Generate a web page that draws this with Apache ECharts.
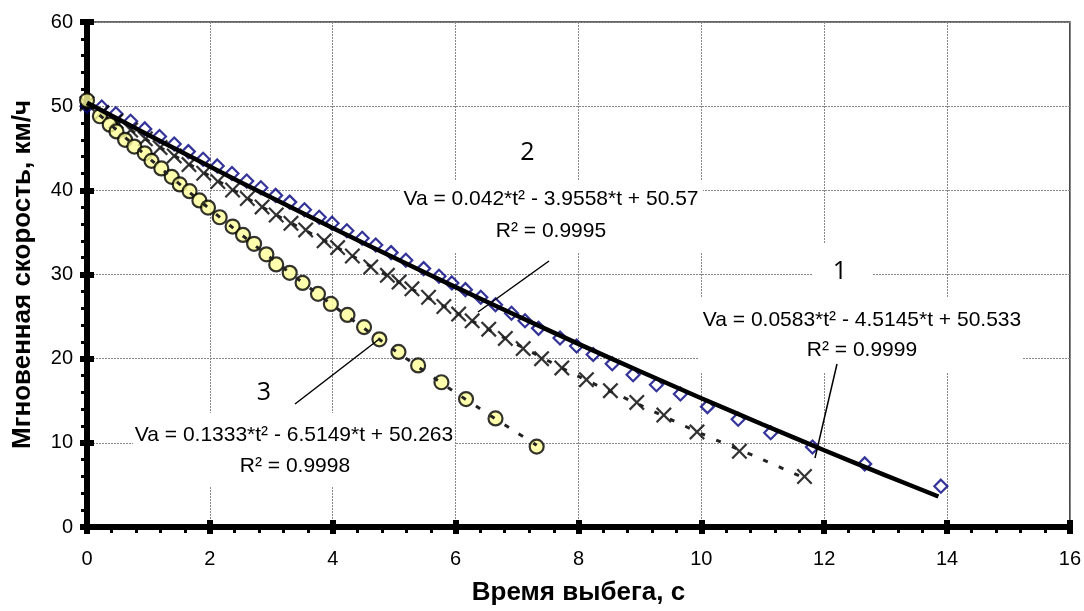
<!DOCTYPE html>
<html>
<head>
<meta charset="utf-8">
<script src="https://cdn.jsdelivr.net/npm/echarts@6/dist/echarts.min.js"></script>
<style>html,body{margin:0;padding:0;background:#fff}#c{width:1084px;height:611px}</style>
</head>
<body>
<div id="c"></div>
<script>
// ---- data ----
const xTicks = [0, 2, 4, 6, 8, 10, 12, 14, 16];
const yTicks = [0, 10, 20, 30, 40, 50, 60];

// series 1: open diamonds
const t1 = [0.00,0.24,0.47,0.71,0.94,1.18,1.42,1.65,1.89,2.12,2.36,2.60,2.83,3.07,3.30,3.54,3.78,3.99,4.23,4.48,4.70,4.95,5.19,5.48,5.73,5.94,6.16,6.41,6.65,6.91,7.13,7.35,7.70,7.97,8.24,8.55,8.89,9.27,9.66,10.10,10.60,11.13,11.81,12.66,13.90];
const v1 = [50.0,49.9,49.1,48.2,47.3,46.4,45.5,44.6,43.7,42.9,42.0,41.1,40.3,39.4,38.6,37.7,36.8,36.1,35.2,34.3,33.5,32.6,31.7,30.7,29.8,29.0,28.2,27.3,26.4,25.4,24.5,23.6,22.45,21.5,20.5,19.4,18.1,16.9,15.8,14.3,12.8,11.2,9.5,7.5,4.85];
// trend line 1 (solid thick)
const tr1t = [0,1,2,3,4,5,6,7,8,9,10,11,12,13,13.86];
const tr1v = [50.4,46.58,42.82,39.14,35.52,31.98,28.5,25.1,21.76,18.5,15.3,12.18,9.12,6.14,3.62];

// series 2: crosses
const t2 = [0.00,0.24,0.47,0.71,0.95,1.19,1.42,1.66,1.90,2.13,2.37,2.61,2.85,3.08,3.32,3.56,3.86,4.08,4.32,4.62,4.89,5.08,5.29,5.56,5.81,6.05,6.27,6.54,6.81,7.10,7.40,7.73,8.13,8.52,8.95,9.39,9.93,10.62,11.68];
const v2 = [50.3,49.24,48.22,47.17,46.12,45.08,44.09,43.06,42.03,41.05,40.04,39.03,38.03,37.07,36.08,35.3,34.0,33.2,32.2,30.9,29.9,29.1,28.3,27.3,26.2,25.3,24.5,23.5,22.4,21.2,20.0,18.9,17.5,16.2,14.8,13.3,11.3,9.0,6.0];
const tr2t = [0,1,2,3,4,5,6,7,8,9,10,11,11.68];
const tr2v = [50.3,45.9,41.7,37.4,33.5,29.4,25.5,21.7,17.9,14.5,11.1,8.0,5.8];

// series 3: yellow circles
const t3 = [0.00,0.21,0.37,0.48,0.62,0.77,0.94,1.05,1.21,1.38,1.51,1.67,1.83,1.97,2.16,2.37,2.54,2.72,2.92,3.08,3.30,3.51,3.76,3.97,4.24,4.51,4.76,5.07,5.39,5.77,6.17,6.65,7.32];
const v3 = [50.7,48.8,47.8,47.0,46.0,45.2,44.4,43.5,42.6,41.6,40.7,39.9,38.8,37.95,36.8,35.7,34.7,33.65,32.4,31.2,30.2,29.0,27.7,26.5,25.2,23.75,22.3,20.8,19.2,17.2,15.2,12.9,9.55];
const tr3t = [0,1,2,3,4,5,6,7,7.32];
const tr3v = [50.26,43.88,37.77,31.92,26.34,21.03,15.97,11.2,9.72];

const eq1 = ['Va = 0.0583*t² - 4.5145*t + 50.533', 'R² = 0.9999'];
const eq2 = ['Va = 0.042*t² - 3.9558*t + 50.57', 'R² = 0.9995'];
const eq3 = ['Va = 0.1333*t² - 6.5149*t + 50.263', 'R² = 0.9998'];
const xName = 'Время выбега, с';
const yName = 'Мгновенная скорость, км/ч';

const zip = (a, b) => a.map((x, i) => [x, b[i]]);
const FONT = '"Liberation Sans", Arial, sans-serif';
const LBLFONT = '"Open Sans", "Noto Sans", sans-serif';

const chart = echarts.init(document.getElementById('c'), null, {renderer: 'canvas'});

const baseX = {
  type: 'value', min: xTicks[0], max: xTicks[xTicks.length - 1], interval: 2,
  position: 'bottom'
};
const baseY = {
  type: 'value', min: yTicks[0], max: yTicks[yTicks.length - 1], interval: 10,
  position: 'left'
};

const X_SYMBOL = 'path://M0,1.2L1.2,0L6,4.8L10.8,0L12,1.2L7.2,6L12,10.8L10.8,12L6,7.2L1.2,12L0,10.8L4.8,6Z';

function textEl(x, y, str, size, family, bold) {
  return {
    type: 'text', x: x, y: y, z: 101,
    style: {
      text: str, fill: '#000', align: 'center', verticalAlign: 'middle',
      font: (bold ? 'bold ' : '') + size + 'px ' + family
    }
  };
}
function boxEl(x1, y1, x2, y2) {
  return { type: 'rect', z: 100, shape: {x: x1, y: y1, width: x2 - x1, height: y2 - y1}, style: {fill: '#fff'} };
}
function lineEl(x1, y1, x2, y2) {
  return { type: 'line', z: 102, shape: {x1: x1, y1: y1, x2: x2, y2: y2}, style: {stroke: '#000', lineWidth: 1.5} };
}

const option = {
  backgroundColor: '#fff',
  animation: false,
  grid: { left: 87, top: 22, right: 11, bottom: 82, show: true, borderColor: '#333', borderWidth: 1.5, backgroundColor: 'transparent' },
  xAxis: [
    Object.assign({}, baseX, {
      name: xName, nameLocation: 'middle', nameGap: 53,
      nameTextStyle: {fontFamily: FONT, fontWeight: 'bold', fontSize: 26, color: '#000'},
      axisLine: {show: true, onZero: false, lineStyle: {color: '#000', width: 6}},
      axisTick: {show: true, inside: false, length: 7, lineStyle: {color: '#000', width: 6}},
      minorTick: {show: true, splitNumber: 5, length: 6, lineStyle: {color: '#000', width: 3}},
      axisLabel: {fontFamily: FONT, fontSize: 20, color: '#000', margin: 22},
      splitLine: {show: true, lineStyle: {color: '#888', type: [2, 1], width: 1}}
    }),
    Object.assign({}, baseX, {
      axisLine: {show: false}, axisLabel: {show: false}, splitLine: {show: false},
      axisTick: {show: true, inside: true, length: 7, lineStyle: {color: '#000', width: 6}}
    })
  ],
  yAxis: [
    Object.assign({}, baseY, {
      name: yName, nameLocation: 'middle', nameGap: 51, nameRotate: 90,
      nameTextStyle: {fontFamily: FONT, fontWeight: 'bold', fontSize: 26, color: '#000'},
      axisLine: {show: true, onZero: false, lineStyle: {color: '#000', width: 6}},
      axisTick: {show: true, inside: false, length: 7, lineStyle: {color: '#000', width: 6}},
      minorTick: {show: true, splitNumber: 5, length: 6, lineStyle: {color: '#000', width: 3}},
      axisLabel: {fontFamily: FONT, fontSize: 20, color: '#000', margin: 14},
      splitLine: {show: true, lineStyle: {color: '#888', type: [2, 1], width: 1}}
    }),
    Object.assign({}, baseY, {
      axisLine: {show: false}, axisLabel: {show: false}, splitLine: {show: false},
      axisTick: {show: true, inside: true, length: 7, lineStyle: {color: '#000', width: 6}}
    })
  ],
  series: [
    { type: 'scatter', name: '1', z: 2, data: zip(t1, v1), symbol: 'diamond', symbolSize: 13,
      itemStyle: {color: 'rgba(255,255,255,0)', borderColor: '#000080', borderWidth: 2.2} },
    { type: 'scatter', name: '2', z: 3, data: zip(t2, v2), symbol: X_SYMBOL, symbolSize: 16,
      itemStyle: {color: '#000'} },
    { type: 'line', name: 'trend2', z: 4, data: zip(tr2t, tr2v), smooth: 0.3, showSymbol: false, symbol: 'none',
      lineStyle: {color: '#222', width: 3, type: [5, 12]} },
    { type: 'scatter', name: '3', z: 5, data: zip(t3, v3), symbol: 'circle', symbolSize: 14,
      itemStyle: {color: '#FFFF99', borderColor: '#000', borderWidth: 2.2} },
    { type: 'line', name: 'trend3', z: 6, data: zip(tr3t, tr3v), smooth: 0.3, showSymbol: false, symbol: 'none',
      lineStyle: {color: '#222', width: 3, type: [5, 12]} },
    { type: 'line', name: 'trend1', z: 7, data: zip(tr1t, tr1v), smooth: 0.3, showSymbol: false, symbol: 'none',
      lineStyle: {color: '#000', width: 4.5} }
  ],
  graphic: [
    // equation 2
    boxEl(400, 180, 703, 252),
    textEl(551, 199, eq2[0], 21, FONT), textEl(551, 231, eq2[1], 21, FONT),
    textEl(527.5, 153, '2', 25, LBLFONT),
    lineEl(549, 261, 478, 312),
    // equation 1
    boxEl(813, 243, 872, 298),
    boxEl(698, 298, 1023, 372),
    textEl(840, 272, '1', 25, LBLFONT),
    textEl(862, 320, eq1[0], 21, FONT), textEl(862, 350, eq1[1], 21, FONT),
    lineEl(837, 364, 815, 458),
    // equation 3
    boxEl(133, 413, 455, 487),
    textEl(294, 435.5, eq3[0], 21, FONT), textEl(295, 466, eq3[1], 21, FONT),
    textEl(264, 393, '3', 25, LBLFONT),
    lineEl(295, 404, 378, 340)
  ]
};
chart.setOption(option);
</script>
</body>
</html>
